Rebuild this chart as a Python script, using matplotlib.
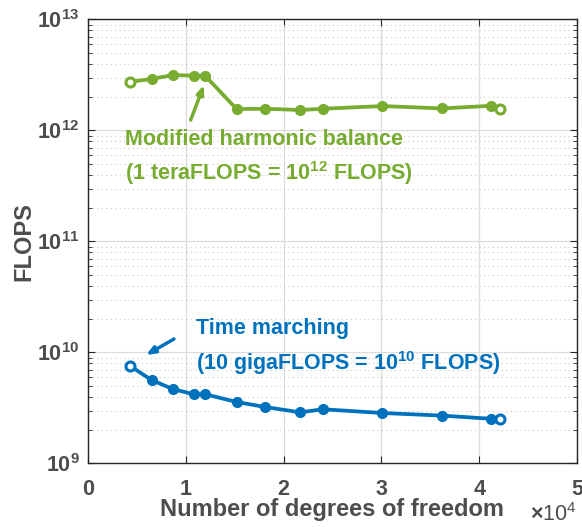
import numpy as np
import matplotlib
matplotlib.use("Agg")
from matplotlib import pyplot as plt
from matplotlib.ticker import LogLocator, FixedLocator, NullFormatter

plt.rcParams['font.family'] = ['Liberation Sans', 'DejaVu Sans']
plt.rcParams['font.weight'] = 'bold'
plt.rcParams['mathtext.fontset'] = 'custom'
plt.rcParams['mathtext.rm'] = 'Liberation Sans:bold'
plt.rcParams['mathtext.bf'] = 'Liberation Sans:bold'
plt.rcParams['mathtext.it'] = 'Liberation Sans:bold'

# degrees of freedom and FLOPS for both solvers
dof = [4300, 6500, 8660, 10840, 12000, 15200, 18100, 21700, 24000, 30100, 36200, 41200, 42100]
flops_mhb = [2.75e12, 2.91e12, 3.16e12, 3.12e12, 3.10e12, 1.56e12, 1.57e12, 1.53e12,
             1.57e12, 1.66e12, 1.58e12, 1.67e12, 1.56e12]
flops_tm = [7.56e9, 5.65e9, 4.69e9, 4.20e9, 4.20e9, 3.58e9, 3.23e9, 2.89e9,
            3.08e9, 2.85e9, 2.70e9, 2.53e9, 2.50e9]
xticks = [0, 1e4, 2e4, 3e4, 4e4, 5e4]
xticklabels = ['0', '1', '2', '3', '4', '5']

green = '#77AC30'
blue = '#0072BD'
gray = '#4D4D4D'
FS = 15.5
LFS = 17

fig = plt.figure(figsize=(5.82, 5.27), dpi=100)
ax = fig.add_axes([0.1512, 0.1205, 0.8402, 0.8425])

for y, c in [(flops_mhb, green), (flops_tm, blue)]:
    ax.plot(dof, y, '-', color=c, lw=2.7, zorder=3)
    ax.plot(dof[1:-1], y[1:-1], 'o', color=c, ms=7, zorder=4)
    ax.plot([dof[0], dof[-1]], [y[0], y[-1]], 'o', mfc='white', mec=c, mew=2.2, ms=6.5, zorder=4)

ax.set_yscale('log')
ax.set_xlim(0, 5e4)
ax.set_ylim(1e9, 1e13)
ax.xaxis.set_major_locator(FixedLocator(xticks))
ax.set_xticklabels(xticklabels)
ax.yaxis.set_major_locator(LogLocator(base=10, numticks=10))
ax.yaxis.set_minor_locator(LogLocator(base=10, subs=np.arange(2, 10), numticks=20))
ax.yaxis.set_minor_formatter(NullFormatter())

ax.grid(True, which='major', color='#DCDCDC', lw=0.9, ls='-')
ax.grid(True, which='minor', axis='y', color='#C8C8C8', lw=0.8, ls=(0, (1, 3)))
ax.set_axisbelow(True)

for s in ax.spines.values():
    s.set_color('#262626')
    s.set_linewidth(1.0)
ax.tick_params(which='both', direction='in', top=True, right=True, colors='#262626',
               labelcolor=gray, labelsize=FS)
ax.tick_params(which='major', length=5)
ax.tick_params(which='minor', length=3)
ax.tick_params(axis='x', pad=11)
ax.tick_params(axis='y', pad=6)

ax.set_xlabel('Number of degrees of freedom', fontsize=LFS, fontweight='bold', color=gray, labelpad=-1)
ax.set_ylabel('FLOPS', fontsize=LFS, fontweight='bold', color=gray, labelpad=1)
fig.text(0.951, 0.002, r'$\times\mathdefault{10^{4}}$', fontsize=FS, fontweight='normal',
         color=gray, ha='center', va='bottom')

# labels and pointers for each curve
ax.text(0.0757, 0.7286, 'Modified harmonic balance', transform=ax.transAxes,
        fontsize=FS, color=green, va='center')
ax.text(0.0757, 0.654, r'(1 teraFLOPS = $\mathdefault{10^{12}}$ FLOPS)', transform=ax.transAxes,
        fontsize=FS, color=green, va='center')
ax.annotate('', xy=(11860, 2.57e12), xytext=(10500, 1.243e12),
            arrowprops=dict(arrowstyle='-|>,head_length=0.5,head_width=0.2', color=green,
                            lw=2.5, shrinkA=0, shrinkB=0))

ax.text(0.2209, 0.305, 'Time marching', transform=ax.transAxes,
        fontsize=FS, color=blue, va='center')
ax.text(0.2209, 0.226, r'(10 gigaFLOPS = $\mathdefault{10^{10}}$ FLOPS)', transform=ax.transAxes,
        fontsize=FS, color=blue, va='center')
ax.annotate('', xy=(5930, 9.48e9), xytext=(8790, 1.323e10),
            arrowprops=dict(arrowstyle='-|>,head_length=0.5,head_width=0.2', color=blue,
                            lw=2.5, shrinkA=0, shrinkB=0))

plt.savefig('out.png', dpi=100)
